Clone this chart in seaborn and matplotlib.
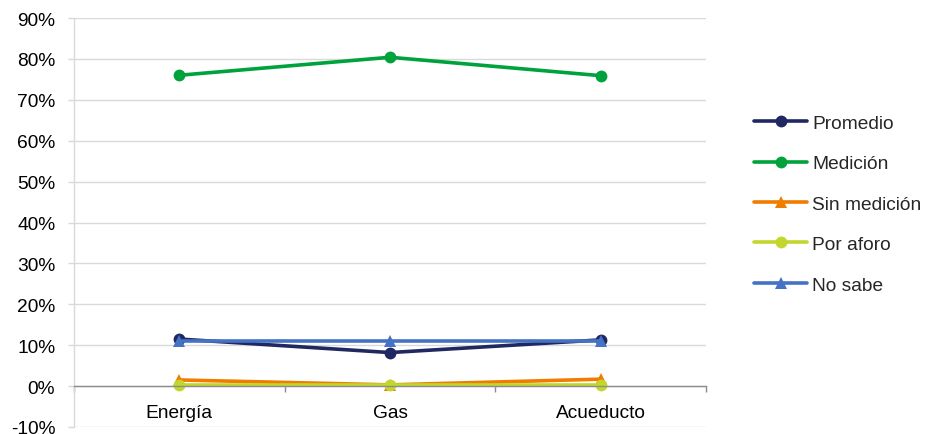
import matplotlib
matplotlib.use("Agg")
import matplotlib.pyplot as plt
from matplotlib.ticker import FixedLocator, PercentFormatter
import seaborn as sns
import pandas as pd

categories = ["Energía", "Gas", "Acueducto"]
promedio = [11.5, 8.2, 11.3]
medicion = [76.0, 80.4, 75.9]
sin_medicion = [1.5, 0.3, 1.7]
por_aforo = [0.3, 0.3, 0.3]
no_sabe = [11.0, 11.0, 11.0]

series_names = ["Promedio", "Medición", "Sin medición", "Por aforo", "No sabe"]
series_values = [promedio, medicion, sin_medicion, por_aforo, no_sabe]
colors = ["#1F2860", "#00A23C", "#F07C00", "#C2D62E", "#4472C4"]
markers = ["o", "o", "^", "o", "^"]

rows = []
for name, vals in zip(series_names, series_values):
    for cat, v in zip(categories, vals):
        rows.append({"categoria": cat, "valor": v, "serie": name})
df = pd.DataFrame(rows)

sns.set_theme(style="white")
plt.rcParams["font.family"] = ["Liberation Sans", "DejaVu Sans"]
plt.rcParams["axes.unicode_minus"] = False

fig = plt.figure(figsize=(9.26, 4.35), dpi=100)
ax = fig.add_axes([74 / 926, 1 - 428 / 435, (706 - 74) / 926, (428 - 19) / 435])

sns.lineplot(
    data=df, x="categoria", y="valor", hue="serie", style="serie",
    hue_order=series_names, style_order=series_names,
    palette=dict(zip(series_names, colors)),
    markers=dict(zip(series_names, markers)), dashes=False,
    linewidth=2.6, markersize=8.5, markeredgewidth=0, ax=ax, sort=False,
)

ax.set_xlim(-0.5, 2.5)
ax.set_ylim(-10, 90)
ax.yaxis.set_major_locator(FixedLocator(range(-10, 91, 10)))
ax.yaxis.set_major_formatter(PercentFormatter(decimals=0))
ax.grid(axis="y", color="#D9D9D9", linewidth=1.0)
ax.grid(axis="x", visible=False)
ax.set_axisbelow(True)
ax.set_xlabel("")
ax.set_ylabel("")

for s in ["top", "right"]:
    ax.spines[s].set_visible(False)
ax.spines["left"].set_color("#D9D9D9")
ax.spines["left"].set_linewidth(1.0)
ax.spines["bottom"].set_position(("data", 0))
ax.spines["bottom"].set_color("#8C8C8C")
ax.spines["bottom"].set_linewidth(1.0)

ax.tick_params(axis="y", which="major", left=True, length=4.5, width=1.0,
               color="#D9D9D9", labelsize=13.8, labelcolor="#000000", pad=9)
ax.xaxis.set_minor_locator(FixedLocator([-0.5, 0.5, 1.5, 2.5]))
ax.tick_params(axis="x", which="minor", bottom=True, length=4, width=1.0,
               color="#8C8C8C", direction="out")
ax.tick_params(axis="x", which="major", bottom=False, length=0,
               labelsize=13.8, labelcolor="#000000", pad=13)

handles, labels = ax.get_legend_handles_labels()
ax.legend(handles, labels, loc="center left", bbox_to_anchor=(746 / 926, 1 - 205 / 435),
          bbox_transform=fig.transFigure, frameon=False, fontsize=13.8,
          handlelength=2.8, labelspacing=1.2, handletextpad=0.25, borderaxespad=0)

fig.savefig("out.png", dpi=100, facecolor="white")
